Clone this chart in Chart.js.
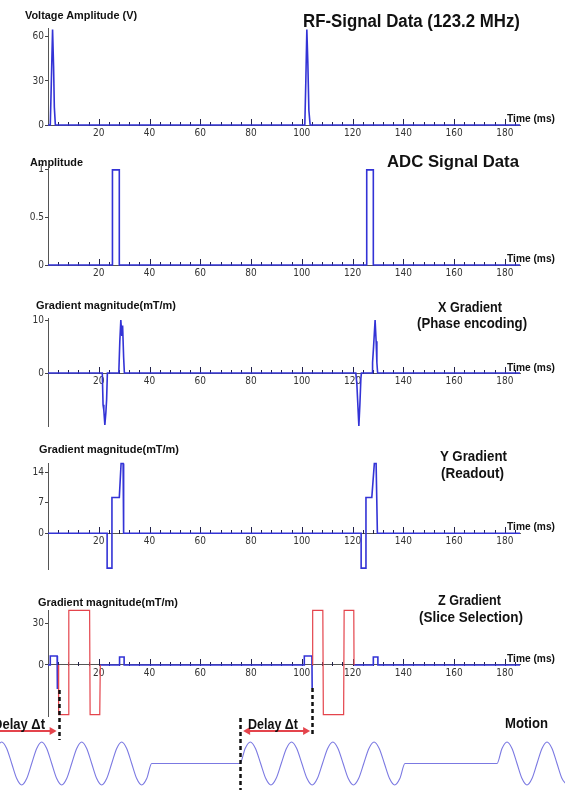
<!DOCTYPE html>
<html>
<head>
<meta charset="utf-8">
<title>MRI pulse sequence timing</title>
<script src="https://cdn.jsdelivr.net/npm/chart.js@4.4.1/dist/chart.umd.min.js"></script>
<style>
  html, body { margin: 0; padding: 0; background: #fff; }
  body { position: relative; width: 565px; height: 790px; overflow: hidden; font-family: 'Liberation Sans', Arial, sans-serif; }
  canvas { position: absolute; left: 0; }
  .lbl { position: absolute; font-weight: bold; color: #111; white-space: nowrap; line-height: 1; transform-origin: 0 0; }
</style>
</head>
<body>
<canvas id="rf"></canvas>
<canvas id="adc"></canvas>
<canvas id="gx"></canvas>
<canvas id="gy"></canvas>
<canvas id="gz"></canvas>
<canvas id="motion"></canvas>
<script>
// --- Data (time in ms) ---
const timeTicks = [20, 40, 60, 80, 100, 120, 140, 160, 180];
const TIME_MAX = 186;

// RF signal (V)
const rfTime = [0, 0.9, 1.3, 1.8, 2.2, 2.5, 2.9, 101.2, 101.6, 102.0, 102.4, 102.8, 103.3, 186];
const rfVolt = [0, 0, 28, 65, 40, 12, 0, 0, 30, 65, 42, 10, 0, 0];
const rfTicks = [0, 30, 60];

// ADC signal
const adcTime = [0, 25.4, 25.4, 28.1, 28.1, 125.6, 125.6, 128.2, 128.2, 186];
const adcAmp = [0, 0, 1, 1, 0, 0, 1, 1, 0, 0];
const adcTicks = [0, 0.5, 1];

// X gradient (mT/m)
const gxTime = [0, 21.4, 21.7, 22.0, 22.4, 22.8, 23.1, 23.4, 27.9, 28.3, 28.7, 29.1, 29.4, 29.8, 30.1,
                121.3, 121.7, 122.1, 122.5, 122.9, 123.3, 123.5, 127.7, 127.9, 128.3, 128.9, 129.3, 129.6, 129.9, 186];
const gxVal = [0, 0, -6, -7, -9.8, -7.5, -5, 0, 0, 6, 10, 7, 9, 3, 0,
               0, -2, -6, -10, -6, -1, 0, 0, 2, 5, 10, 6, 2, 0, 0];
const gxTicks = [0, 10];

// Y gradient (mT/m)
const gyTime = [0, 23.3, 23.3, 25.0, 25.2, 28.1, 28.8, 29.6, 29.8, 123.4, 123.4, 125.1, 125.3, 127.6, 128.6, 129.3, 129.8, 186];
const gyVal = [0, 0, -8, -8, 8.2, 8.2, 16, 16, 0, 0, -8, -8, 8.2, 8.2, 16, 16, 0, 0];
const gyTicks = [0, 7, 14];

// Z gradient (mT/m): blue part and red slice-select part
const gzBlueTime = [0, 0.9, 0.9, 3.6, 3.7, 4.0, 4.1, 20.6, 28.2, 28.2, 30.0, 30.0,
                    101.0, 101.0, 104.0, 104.1, 104.2, 104.3, 120.6, 128.2, 128.2, 130.0, 130.0, 186];
const gzBlueVal = [0, 0, 6.5, 6.5, -16.8, -16.8, null, 0, 0, 5.8, 5.8, 0,
                   0, 6.5, 6.5, -16.8, -16.8, null, 0, 0, 5.8, 5.8, 0, 0];
const gzRedTime = [4.1, 4.2, 8.1, 8.2, 16.4, 16.6, 20.4, 20.6, 60,
                   104.2, 104.3, 108.3, 108.5, 116.5, 116.7, 120.5, 120.6];
const gzRedVal = [0, -36, -36, 39.5, 39.5, -36, -36, 0, null,
                  0, 39.5, 39.5, -36, -36, 39.5, 39.5, 0];
const gzTicks = [0, 30];

// Motion (relative displacement), sampled every 1/8 cycle
const motionTime = [
  -22.19, -20.22, -18.25, -16.28, -14.30, -12.33, -10.36, -8.39, -6.42, -4.45, -2.48, -0.51,
  1.46, 3.43, 5.40, 7.37, 9.34, 11.31, 13.28, 15.25, 17.22, 19.19, 21.16, 23.13,
  25.10, 27.07, 29.04, 31.01, 32.98, 34.95, 36.92, 38.90, 40.87,
  75.66, 77.69, 79.72, 81.76, 83.79, 85.82, 87.85, 89.88, 91.92, 93.95, 95.98, 98.01,
  100.04, 102.08, 104.11, 106.14, 108.17, 110.20, 112.24, 114.27, 116.30, 118.33, 120.36, 122.40,
  124.43, 126.46, 128.49, 130.52, 132.56, 134.59, 136.62, 138.65, 140.68,
  176.94, 178.91, 180.88, 182.85, 184.82, 186.79, 188.76, 190.73, 192.70, 194.67, 196.64, 198.61,
  200.58, 202.55, 204.52
];
const motionPos = [
  0, 0.7, 1, 0.7, 0, -0.7, -1, -0.7, 0, 0.7, 1, 0.7,
  0, -0.7, -1, -0.7, 0, 0.7, 1, 0.7, 0, -0.7, -1, -0.7,
  0, 0.7, 1, 0.7, 0, -0.7, -1, -0.7, 0,
  0, 0.7, 1, 0.7, 0, -0.7, -1, -0.7, 0, 0.7, 1, 0.7,
  0, -0.7, -1, -0.7, 0, 0.7, 1, 0.7, 0, -0.7, -1, -0.7,
  0, 0.7, 1, 0.7, 0, -0.7, -1, -0.7, 0,
  0, 0.7, 1, 0.7, 0, -0.7, -1, -0.7, 0, 0.7, 1, 0.7,
  0, -0.7, -1
];

// Delay markers and arrows (ms)
const delayMarkers = [4.2, 75.7, 104.2];
const delayArrows = [[-26, 3.4], [76.9, 103.3]];

// --- Layout ---
const W = 565;
const AXIS_LEFT = 48, AXIS_RIGHT = 520;
const PAD_T = 10, PAD_B = 16;
const BLUE = '#3333d6', RED = '#e4444c';
const tickFont = { family: "'Liberation Sans Narrow', 'DejaVu Sans Condensed', 'Arial Narrow', sans-serif", size: 10 };

const panels = [
  { id: 'rf',  top: 28,  bottom: 125,   min: 0,     max: 66,   ticks: rfTicks,
    sets: [{ t: rfTime, v: rfVolt, color: BLUE }] },
  { id: 'adc', top: 168, bottom: 265,   min: 0,     max: 1.02, ticks: adcTicks,
    sets: [{ t: adcTime, v: adcAmp, color: BLUE }] },
  { id: 'gx',  top: 318, bottom: 426,   min: -10,   max: 10.4, ticks: gxTicks,
    sets: [{ t: gxTime, v: gxVal, color: BLUE }] },
  { id: 'gy',  top: 463, bottom: 568.5, min: -8.2,  max: 16.1, ticks: gyTicks,
    sets: [{ t: gyTime, v: gyVal, color: BLUE }] },
  { id: 'gz',  top: 610, bottom: 716,   min: -37,   max: 39.8, ticks: gzTicks,
    sets: [{ t: gzRedTime, v: gzRedVal, color: RED, width: 1.2 }, { t: gzBlueTime, v: gzBlueVal, color: BLUE }] }
];

// small upward ticks on the time axis (minor every 4 ms, major every 20 ms)
const timeTickPlugin = {
  id: 'timeTicks',
  beforeDatasetsDraw(chart) {
    const { ctx, scales: { x, y } } = chart;
    const y0 = Math.round(y.getPixelForValue(0));
    ctx.save();
    ctx.strokeStyle = '#22224a';
    ctx.lineWidth = 1;
    for (let t = 4; t < TIME_MAX; t += 4) {
      const px = Math.round(x.getPixelForValue(t)) + 0.5;
      const len = (t % 20 === 0) ? 6 : 3;
      ctx.beginPath();
      ctx.moveTo(px, y0 - len);
      ctx.lineTo(px, y0 + 1);
      ctx.stroke();
    }
    ctx.restore();
  }
};

panels.forEach(p => {
  const canvas = document.getElementById(p.id);
  const areaH = Math.round(p.bottom - p.top);
  canvas.width = W;
  canvas.height = areaH + PAD_T + PAD_B;
  canvas.style.top = (p.top - PAD_T) + 'px';

  const datasets = p.sets.map(s => ({
    data: s.t.map((t, i) => ({ x: t, y: s.v[i] })),
    borderColor: s.color,
    borderWidth: s.width || 1.6,
    pointRadius: 0,
    tension: 0,
    spanGaps: false,
    clip: 6
  }));

  new Chart(canvas, {
    type: 'line',
    data: { datasets },
    options: {
      responsive: false,
      animation: false,
      layout: { padding: { top: PAD_T, bottom: PAD_B, left: 0, right: W - AXIS_RIGHT } },
      plugins: { legend: { display: false }, tooltip: { enabled: false } },
      scales: {
        x: {
          type: 'linear', min: 0, max: TIME_MAX, position: { y: 0 },
          afterBuildTicks: s => { s.ticks = timeTicks.map(v => ({ value: v })); },
          grid: { display: false, drawTicks: false },
          border: { display: true, color: '#555', width: 1 },
          ticks: { padding: 2, font: tickFont, color: '#333', maxRotation: 0, autoSkip: false }
        },
        y: {
          type: 'linear', min: p.min, max: p.max,
          afterFit: s => { s.width = AXIS_LEFT; },
          afterBuildTicks: s => { s.ticks = p.ticks.map(v => ({ value: v })); },
          grid: { drawOnChartArea: false, drawTicks: true, tickLength: 3, color: '#444' },
          border: { display: true, color: '#555', width: 1 },
          ticks: { padding: 1, font: tickFont, color: '#333', callback: v => String(v) }
        }
      }
    },
    plugins: [timeTickPlugin]
  });
});

// --- Motion trace with delay markers ---
const MOTION_TOP = 680, MOTION_H = 110;
const markerSpans = [[690, 740], [718, 790], [688, 737]];
const ARROW_Y = 731;
const pxPerMs = (AXIS_RIGHT - AXIS_LEFT) / TIME_MAX;

const delayPlugin = {
  id: 'delayMarks',
  afterDatasetsDraw(chart) {
    const { ctx, scales: { x } } = chart;
    ctx.save();
    ctx.strokeStyle = '#111';
    ctx.lineWidth = 2.5;
    ctx.setLineDash([4, 3]);
    delayMarkers.forEach((t, i) => {
      const px = Math.round(x.getPixelForValue(t)) + 0.5;
      ctx.beginPath();
      ctx.moveTo(px, markerSpans[i][0] - MOTION_TOP);
      ctx.lineTo(px, markerSpans[i][1] - MOTION_TOP);
      ctx.stroke();
    });
    ctx.setLineDash([]);
    ctx.strokeStyle = RED;
    ctx.fillStyle = RED;
    ctx.lineWidth = 2;
    const ay = ARROW_Y - MOTION_TOP;
    delayArrows.forEach(([a, b]) => {
      const x0 = x.getPixelForValue(a), x1 = x.getPixelForValue(b);
      ctx.beginPath();
      ctx.moveTo(x0 + 5, ay);
      ctx.lineTo(x1 - 5, ay);
      ctx.stroke();
      [[x1, -1], [x0, 1]].forEach(([hx, dir]) => {
        ctx.beginPath();
        ctx.moveTo(hx, ay);
        ctx.lineTo(hx + dir * 7, ay - 4);
        ctx.lineTo(hx + dir * 7, ay + 4);
        ctx.closePath();
        ctx.fill();
      });
    });
    ctx.restore();
  }
};

const motionCanvas = document.getElementById('motion');
motionCanvas.width = W;
motionCanvas.height = MOTION_H;
motionCanvas.style.top = MOTION_TOP + 'px';
new Chart(motionCanvas, {
  type: 'line',
  data: {
    datasets: [{
      data: motionTime.map((t, i) => ({ x: t, y: motionPos[i] })),
      borderColor: '#7b79e2',
      borderWidth: 1.1,
      pointRadius: 0,
      cubicInterpolationMode: 'monotone',
      clip: 4
    }]
  },
  options: {
    responsive: false,
    animation: false,
    layout: { padding: { top: 62, bottom: 5, left: 0, right: 0 } },
    plugins: { legend: { display: false }, tooltip: { enabled: false } },
    scales: {
      x: { type: 'linear', display: false, min: -AXIS_LEFT / pxPerMs, max: (W - AXIS_LEFT) / pxPerMs },
      y: { display: false, min: -1, max: 1 }
    }
  },
  plugins: [delayPlugin]
});

// --- Text labels: [text, left, right, cap-centre y, font size] ---
const labels = [
  ['Voltage Amplitude (V)', 25, 137, 15.5, 11],
  ['RF-Signal Data (123.2 MHz)', 303, 520, 21, 18],
  ['Time (ms)', 507, 555, 118, 11],
  ['Amplitude', 30, 83, 162, 11],
  ['ADC Signal Data', 387, 519, 161, 17],
  ['Time (ms)', 507, 555, 258, 11],
  ['Gradient magnitude(mT/m)', 36, 176, 305, 11],
  ['X Gradient', 438, 502, 307, 14],
  ['(Phase encoding)', 417, 527, 323, 14],
  ['Time (ms)', 507, 555, 367, 11],
  ['Gradient magnitude(mT/m)', 39, 179, 449, 11],
  ['Y Gradient', 440, 507, 456, 14],
  ['(Readout)', 441, 504, 473, 14],
  ['Time (ms)', 507, 555, 526, 11],
  ['Gradient magnitude(mT/m)', 38, 178, 602, 11],
  ['Z Gradient', 438, 501, 600, 14],
  ['(Slice Selection)', 419, 523, 617, 14],
  ['Time (ms)', 507, 555, 658, 11],
  ['Delay Δt', -7, 45, 724, 14],
  ['Delay Δt', 248, 298, 724, 14],
  ['Motion', 505, 548, 723, 14]
];

labels.forEach(([txt, left, right, cy, size]) => {
  const d = document.createElement('div');
  d.className = 'lbl';
  d.textContent = txt;
  d.style.fontSize = size + 'px';
  d.style.left = left + 'px';
  d.style.top = (cy - size * 0.49) + 'px';
  document.body.appendChild(d);
  const w = d.getBoundingClientRect().width;
  d.style.transform = 'scaleX(' + ((right - left) / w).toFixed(3) + ')';
});
</script>
</body>
</html>
